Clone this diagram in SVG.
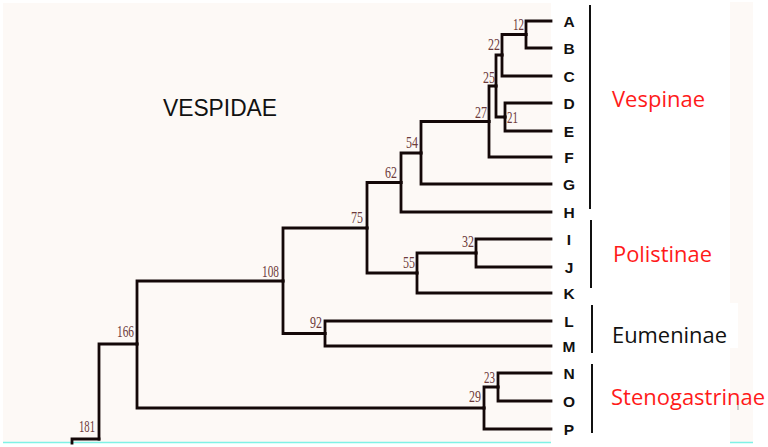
<svg xmlns="http://www.w3.org/2000/svg" width="768" height="447" viewBox="0 0 768 447">
<style>
.bg{fill:#fdf9f6}
.edge{fill:none;stroke:#140808;stroke-width:2.8;stroke-linecap:square}
.leaf{font-family:"Liberation Sans",Arial,sans-serif;font-weight:bold;font-size:15.5px;fill:#111;text-anchor:middle}
.sup{font-family:"Liberation Serif","Times New Roman",serif;font-size:16px;fill:#6e3b3b;text-anchor:end}
.grp{font-family:"Open Sans","Noto Sans",sans-serif;font-size:21px}
.bar{stroke:#111;stroke-width:2}
.red{fill:#ff1a1a}
</style>
<rect width="768" height="447" fill="#ffffff"/>
<rect class="bg" x="3" y="3" width="548" height="439"/>
<rect class="bg" x="730" y="2" width="23" height="440"/>
<rect x="600" y="303" width="138" height="45" fill="#ffffff"/>
<line x1="3" y1="442.5" x2="551" y2="442.5" stroke="#7ff2e6" stroke-width="1.5"/>
<line x1="730" y1="442.5" x2="753" y2="442.5" stroke="#7ff2e6" stroke-width="1.5"/>
<line x1="738" y1="401" x2="738" y2="410" stroke="#999" stroke-width="1"/>

<text x="163" y="116" font-family="'Liberation Sans',Arial,sans-serif" font-size="23" fill="#111" textLength="114" lengthAdjust="spacingAndGlyphs">VESPIDAE</text>

<g id="connectors">
<path class="edge" d="M72,443 V439 H99"/>
<path class="edge" d="M99,439 V344 H137"/>
<path class="edge" d="M137,344 V281 H283"/>
<path class="edge" d="M137,344 V408 H484"/>
<path class="edge" d="M283,281 V228 H367"/>
<path class="edge" d="M283,281 V333.5 H325"/>
<path class="edge" d="M367,228 V182.5 H401"/>
<path class="edge" d="M367,228 V273 H417"/>
<path class="edge" d="M401,182.5 V153 H421"/>
<path class="edge" d="M401,182.5 V212 H551"/>
<path class="edge" d="M421,153 V121.5 H489"/>
<path class="edge" d="M421,153 V184 H551"/>
<path class="edge" d="M489,121.5 V86 H496"/>
<path class="edge" d="M489,121.5 V157 H551"/>
<path class="edge" d="M496,86 V55 H502"/>
<path class="edge" d="M496,86 V117 H505"/>
<path class="edge" d="M502,55 V34.5 H526"/>
<path class="edge" d="M502,55 V76 H551"/>
<path class="edge" d="M526,34.5 V21 H551"/>
<path class="edge" d="M526,34.5 V48 H551"/>
<path class="edge" d="M505,117 V103 H551"/>
<path class="edge" d="M505,117 V131 H551"/>
<path class="edge" d="M417,273 V253 H476"/>
<path class="edge" d="M417,273 V293 H551"/>
<path class="edge" d="M476,253 V239 H551"/>
<path class="edge" d="M476,253 V267 H551"/>
<path class="edge" d="M325,333.5 V321 H551"/>
<path class="edge" d="M325,333.5 V346 H551"/>
<path class="edge" d="M484,408 V387 H498"/>
<path class="edge" d="M484,408 V429 H551"/>
<path class="edge" d="M498,387 V373 H551"/>
<path class="edge" d="M498,387 V401 H551"/>
</g>

<g id="support">
<text class="sup" x="524" y="30" textLength="11" lengthAdjust="spacingAndGlyphs">12</text>
<text class="sup" x="500" y="50" textLength="12" lengthAdjust="spacingAndGlyphs">22</text>
<text class="sup" x="495" y="83" textLength="12" lengthAdjust="spacingAndGlyphs">25</text>
<text class="sup" x="487" y="118" textLength="12" lengthAdjust="spacingAndGlyphs">27</text>
<text class="sup" x="507" y="123" style="text-anchor:start" textLength="11" lengthAdjust="spacingAndGlyphs">21</text>
<text class="sup" x="418" y="148" textLength="12" lengthAdjust="spacingAndGlyphs">54</text>
<text class="sup" x="397" y="178" textLength="12" lengthAdjust="spacingAndGlyphs">62</text>
<text class="sup" x="363" y="223" textLength="12" lengthAdjust="spacingAndGlyphs">75</text>
<text class="sup" x="415" y="268" textLength="12" lengthAdjust="spacingAndGlyphs">55</text>
<text class="sup" x="474" y="247" textLength="12" lengthAdjust="spacingAndGlyphs">32</text>
<text class="sup" x="279" y="277" textLength="17" lengthAdjust="spacingAndGlyphs">108</text>
<text class="sup" x="322" y="328" textLength="12" lengthAdjust="spacingAndGlyphs">92</text>
<text class="sup" x="495" y="383" textLength="11" lengthAdjust="spacingAndGlyphs">23</text>
<text class="sup" x="481" y="402" textLength="12" lengthAdjust="spacingAndGlyphs">29</text>
<text class="sup" x="134" y="337" textLength="17" lengthAdjust="spacingAndGlyphs">166</text>
<text class="sup" x="95" y="432" textLength="16" lengthAdjust="spacingAndGlyphs">181</text>
</g>

<g id="node-A"><text class="leaf" x="569" y="27">A</text></g>
<g id="node-B"><text class="leaf" x="569" y="54">B</text></g>
<g id="node-C"><text class="leaf" x="569" y="82">C</text></g>
<g id="node-D"><text class="leaf" x="569" y="109">D</text></g>
<g id="node-E"><text class="leaf" x="569" y="137">E</text></g>
<g id="node-F"><text class="leaf" x="569" y="163">F</text></g>
<g id="node-G"><text class="leaf" x="569" y="190">G</text></g>
<g id="node-H"><text class="leaf" x="569" y="218">H</text></g>
<g id="node-I"><text class="leaf" x="569" y="245">I</text></g>
<g id="node-J"><text class="leaf" x="569" y="273">J</text></g>
<g id="node-K"><text class="leaf" x="569" y="299">K</text></g>
<g id="node-L"><text class="leaf" x="569" y="327">L</text></g>
<g id="node-M"><text class="leaf" x="569" y="352">M</text></g>
<g id="node-N"><text class="leaf" x="569" y="379">N</text></g>
<g id="node-O"><text class="leaf" x="569" y="407">O</text></g>
<g id="node-P"><text class="leaf" x="569" y="435">P</text></g>

<g id="group-Vespinae">
<line class="bar" x1="590" y1="5" x2="590" y2="209"/>
<text class="grp red" x="612" y="107" textLength="93" lengthAdjust="spacingAndGlyphs">Vespinae</text>
</g>
<g id="group-Polistinae">
<line class="bar" x1="591" y1="220" x2="591" y2="288"/>
<text class="grp red" x="613" y="262" textLength="99" lengthAdjust="spacingAndGlyphs">Polistinae</text>
</g>
<g id="group-Eumeninae">
<line class="bar" x1="592" y1="305" x2="592" y2="353"/>
<text class="grp" x="612" y="343" fill="#111" textLength="115" lengthAdjust="spacingAndGlyphs">Eumeninae</text>
</g>
<g id="group-Stenogastrinae">
<line class="bar" x1="592" y1="364" x2="592" y2="433"/>
<text class="grp red" x="611" y="405" textLength="154" lengthAdjust="spacingAndGlyphs">Stenogastrinae</text>
</g>
</svg>
